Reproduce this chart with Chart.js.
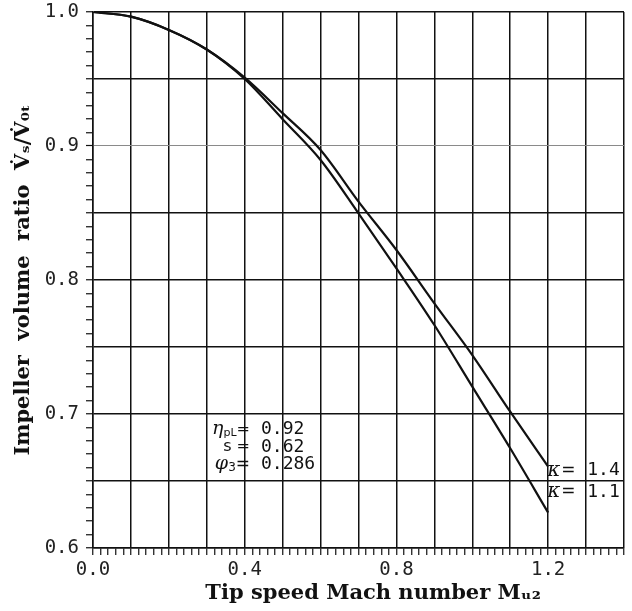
<!DOCTYPE html>
<html>
<head>
<meta charset="utf-8">
<script src="https://cdn.jsdelivr.net/npm/chart.js@4/dist/chart.umd.min.js"></script>
<style>
  html, body { margin: 0; padding: 0; background: #fff; }
  canvas { display: block; }
</style>
</head>
<body>
<canvas id="chart" width="632" height="611"></canvas>
<script>
// Tip speed Mach number M_u2
const machNumbers = [0.0, 0.1, 0.2, 0.3, 0.4, 0.5, 0.6, 0.7, 0.8, 0.9, 1.0, 1.1, 1.2];
// Impeller volume ratio for two isentropic exponents
const ratioKappa14 = [1.0, 0.9965, 0.9866, 0.972, 0.951, 0.9245, 0.897, 0.8585, 0.8224, 0.7826, 0.744, 0.7017, 0.6607];
const ratioKappa11 = [1.0, 0.9965, 0.9866, 0.972, 0.950, 0.920, 0.8896, 0.8498, 0.8087, 0.7664, 0.7204, 0.6744, 0.6264];

const xTickLabels = [0.0, 0.4, 0.8, 1.2];
const yTickLabels = [0.6, 0.7, 0.8, 0.9, 1.0];

const seriesLabels = ['1.4', '1.1'];
const parameterNames = ['\u03B7', 's', '\u03C6'];
const parameterValues = ['0.92', '0.62', '0.286'];

const near = (a, b) => Math.abs(a - b) < 1e-6;
const isMultiple = (v, step) => Math.abs(v / step - Math.round(v / step)) < 1e-6;

const INK = '#111';
const monoFont = '"DejaVu Sans Mono", "Liberation Mono", monospace';
const titleFont = '"DejaVu Serif", "Liberation Serif", serif';

// Parameter block and curve labels written on top of the plot
const notesPlugin = {
  id: 'notes',
  afterDatasetsDraw(chart) {
    const { ctx, scales: { x, y } } = chart;
    ctx.save();
    ctx.fillStyle = INK;
    ctx.textBaseline = 'middle';

    const labelX = x.getPixelForValue(0.414);
    const valueX = x.getPixelForValue(0.443);
    const rows = [0.6885, 0.6755, 0.6625];

    // eta_pL =
    ctx.textAlign = 'left';
    let yy = y.getPixelForValue(rows[0]);
    ctx.font = 'italic 19px "DejaVu Serif", serif';
    const etaW = ctx.measureText(parameterNames[0]).width;
    ctx.font = '11px "DejaVu Sans", sans-serif';
    const subW = ctx.measureText('pL').width;
    ctx.font = '16px "DejaVu Sans", sans-serif';
    const eqW = ctx.measureText('=').width;
    let x0 = labelX - (etaW + subW + eqW);
    ctx.font = 'italic 19px "DejaVu Serif", serif';
    ctx.fillText(parameterNames[0], x0, yy);
    ctx.font = '11px "DejaVu Sans", sans-serif';
    ctx.fillText('pL', x0 + etaW, yy + 4);
    ctx.font = '16px "DejaVu Sans", sans-serif';
    ctx.fillText('=', x0 + etaW + subW, yy);

    // s =
    yy = y.getPixelForValue(rows[1]);
    ctx.textAlign = 'right';
    ctx.font = '16px "DejaVu Sans", sans-serif';
    ctx.fillText(parameterNames[1] + ' =', labelX, yy);

    // phi_3 =
    yy = y.getPixelForValue(rows[2]);
    ctx.textAlign = 'left';
    ctx.font = 'italic 19px "DejaVu Serif", serif';
    const phiW = ctx.measureText(parameterNames[2]).width;
    ctx.font = '12px "DejaVu Sans", sans-serif';
    const threeW = ctx.measureText('3').width;
    ctx.font = '17px "DejaVu Sans", sans-serif';
    const eq2W = ctx.measureText('=').width;
    x0 = labelX - (phiW + threeW + eq2W);
    ctx.font = 'italic 19px "DejaVu Serif", serif';
    ctx.fillText(parameterNames[2], x0, yy);
    ctx.font = '12px "DejaVu Sans", sans-serif';
    ctx.fillText('3', x0 + phiW, yy + 4);
    ctx.font = '17px "DejaVu Sans", sans-serif';
    ctx.fillText('=', x0 + phiW + threeW, yy);

    // values
    ctx.textAlign = 'left';
    ctx.font = '18px ' + monoFont;
    parameterValues.forEach((v, i) => {
      ctx.fillText(v, valueX, y.getPixelForValue(rows[i]));
    });

    // kappa labels at the curve ends
    const kx = x.getPixelForValue(1.2) - 1;
    const kvx = x.getPixelForValue(1.303);
    const kRows = [0.6578, 0.6418];
    seriesLabels.forEach((lab, i) => {
      const py = y.getPixelForValue(kRows[i]);
      ctx.textAlign = 'left';
      ctx.font = 'italic 20px "DejaVu Serif", serif';
      ctx.fillText('\u03BA', kx, py);
      const kw = ctx.measureText('\u03BA').width;
      ctx.font = '17px "DejaVu Sans", sans-serif';
      ctx.fillText('=', kx + kw + 1, py);
      ctx.font = '18px ' + monoFont;
      ctx.fillText(lab, kvx, py);
    });
    ctx.restore();
  }
};

new Chart(document.getElementById('chart'), {
  type: 'line',
  data: {
    labels: machNumbers,
    datasets: [
      {
        label: '\u03BA = 1.4',
        data: machNumbers.map((m, i) => ({ x: m, y: ratioKappa14[i] })),
        borderColor: INK,
        borderWidth: 2.2,
        pointRadius: 0,
        cubicInterpolationMode: 'monotone',
        fill: false
      },
      {
        label: '\u03BA = 1.1',
        data: machNumbers.map((m, i) => ({ x: m, y: ratioKappa11[i] })),
        borderColor: INK,
        borderWidth: 2.2,
        pointRadius: 0,
        cubicInterpolationMode: 'monotone',
        fill: false
      }
    ]
  },
  options: {
    responsive: false,
    animation: false,
    layout: { padding: { top: 0, right: 8, left: 0, bottom: 0 } },
    plugins: {
      legend: { display: false },
      tooltip: { enabled: false }
    },
    scales: {
      x: {
        type: 'linear',
        min: 0,
        max: 1.4,
        afterFit(scale) { scale.height = 63; },
        ticks: {
          stepSize: 0.02,
          autoSkip: false,
          maxRotation: 0,
          minRotation: 0,
          padding: 4,
          color: '#222',
          font: { family: monoFont, size: 19 },
          callback(v) {
            return xTickLabels.some(t => near(t, v)) ? Number(v).toFixed(1) : '';
          }
        },
        grid: {
          drawOnChartArea: true,
          color(ctx) {
            const v = ctx.tick ? ctx.tick.value : 0;
            return isMultiple(v, 0.1) ? INK : 'rgba(0,0,0,0)';
          },
          lineWidth: 1.5,
          tickColor: INK,
          tickLength: 7,
          tickWidth: 1.2
        },
        border: { display: true, color: INK, width: 1.5 },
        title: {
          display: true,
          text: '    Tip speed Mach number M\u1D64\u2082',
          color: INK,
          font: { family: titleFont, size: 21, weight: 'bold' },
          padding: { top: 0, bottom: 5 }
        }
      },
      y: {
        type: 'linear',
        min: 0.6,
        max: 1.0,
        afterFit(scale) {
          scale.width = 93;
          scale.paddingTop = 12;
        },
        ticks: {
          stepSize: 0.01,
          autoSkip: false,
          padding: 7,
          color: '#222',
          font: { family: monoFont, size: 19 },
          callback(v) {
            return yTickLabels.some(t => near(t, v)) ? Number(v).toFixed(1) : '';
          }
        },
        grid: {
          color(ctx) {
            const v = ctx.tick ? ctx.tick.value : 0;
            if (!isMultiple(v, 0.05)) return 'rgba(0,0,0,0)';
            return near(v, 0.9) ? '#8a8a8a' : INK;
          },
          lineWidth(ctx) {
            const v = ctx.tick ? ctx.tick.value : 0;
            return near(v, 0.9) ? 1 : 1.5;
          },
          tickColor: INK,
          tickLength: 7,
          tickWidth: 1.2
        },
        border: { display: true, color: INK, width: 1.5 },
        title: {
          display: true,
          text: 'Impeller  volume  ratio  V\u0307\u209B/V\u0307\u2080\u209C',
          color: INK,
          font: { family: titleFont, size: 21, weight: 'bold' },
          padding: { top: 11, bottom: 0 }
        }
      }
    }
  },
  plugins: [notesPlugin]
});
</script>
</body>
</html>
